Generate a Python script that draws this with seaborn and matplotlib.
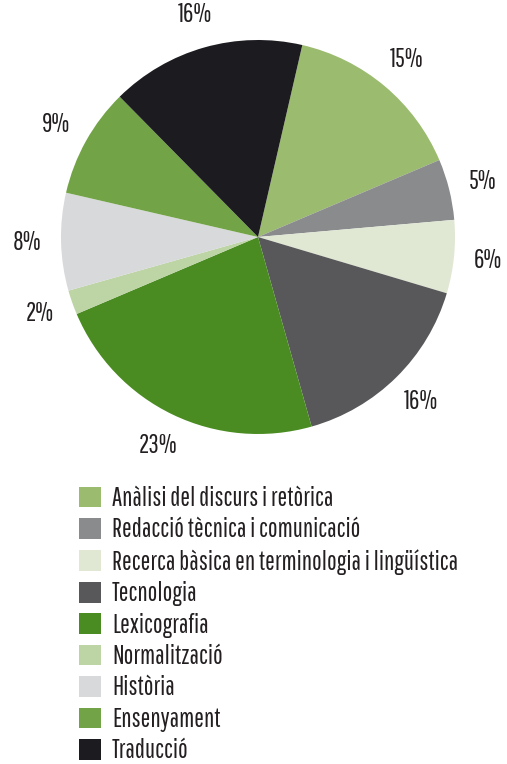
import matplotlib
matplotlib.use("Agg")
import matplotlib.pyplot as plt
import seaborn as sns

# data
categories = [
    "Anàlisi del discurs i retòrica",
    "Redacció tècnica i comunicació",
    "Recerca bàsica en terminologia i lingüística",
    "Tecnologia",
    "Lexicografia",
    "Normalització",
    "Història",
    "Ensenyament",
    "Traducció",
]
shares = [15, 5, 6, 16, 23, 2, 8, 9, 16]
colors = ["#9bbb6e", "#8a8b8d", "#e0e8d4", "#58585a", "#4a8c22",
          "#bdd4a5", "#d8d9db", "#72a346", "#1c1b20"]

sns.set_theme(style="white")
plt.rcParams["font.family"] = ["Pathway Gothic One", "Roboto Condensed", "DejaVu Sans"]
text_color = "#231f20"
fsize = 18.5

fig = plt.figure(figsize=(5.07, 7.64), dpi=100)
ax = fig.add_axes([61 / 507, 1 - 434 / 764, 394 / 507, 394 / 764])

wedges, _, pct_texts = ax.pie(
    shares,
    colors=colors,
    startangle=77,
    counterclock=False,
    autopct="%d%%",
    pctdistance=1.175,
    wedgeprops={"linewidth": 0},
    textprops={"fontsize": fsize, "color": text_color},
)
ax.set_xlim(-1, 1)
ax.set_ylim(-1, 1)
ax.axis("off")

leg = fig.legend(
    wedges, categories,
    loc="upper left",
    bbox_to_anchor=(79 / 507, 1 - 486 / 764),
    frameon=False,
    fontsize=fsize,
    borderpad=0,
    borderaxespad=0,
    handlelength=0.86,
    handleheight=0.86,
    handletextpad=0.42,
    labelspacing=0.25,
)
for t in leg.get_texts():
    t.set_color(text_color)

fig.savefig("out.png", dpi=100)
plt.close(fig)
